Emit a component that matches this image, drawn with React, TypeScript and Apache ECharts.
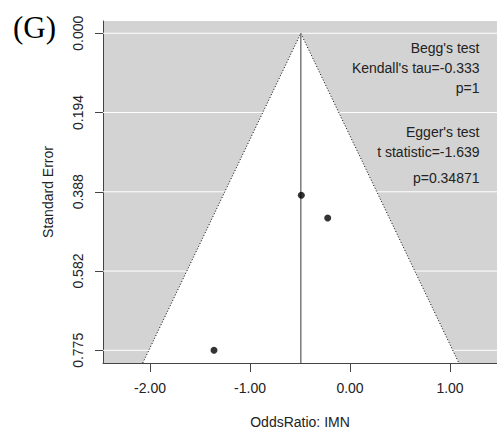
import React, { useEffect, useRef } from "react";
import * as echarts from "echarts";

// Study estimates (log odds ratio) and standard errors
const studyEffects = [-0.487, -0.223, -1.36];
const studySE = [0.396, 0.452, 0.7755];
const summaryEffect = -0.492;
const zCrit = 1.96;

const xTickValues = [-2, -1, 0, 1];
const yTickValues = [0, 0.19388, 0.38775, 0.58163, 0.7755];
const yTickLabels = ["0.000", "0.194", "0.388", "0.582", "0.775"];

const xMin = -2.47;
const xMax = 1.47;
const yMin = -0.03;
const yMax = 0.8065;

const annotations = [
  { text: "Begg's test", y: 47.5 },
  { text: "Kendall's tau=-0.333", y: 67.5 },
  { text: "p=1", y: 88 },
  { text: "Egger's test", y: 132 },
  { text: "t statistic=-1.639", y: 152 },
  { text: "p=0.34871", y: 178 },
];

const FONT = "'Liberation Sans', Arial, Helvetica, sans-serif";

export default function App() {
  const ref = useRef<HTMLDivElement>(null);
  useEffect(() => {
    if (!ref.current) return;
    const chart = echarts.init(ref.current, undefined, { renderer: "svg" });
    const points = studyEffects.map((x, i) => [x, studySE[i]]);
    chart.setOption({
      animation: false,
      backgroundColor: "#ffffff",
      grid: {
        left: 103,
        top: 21,
        right: 0,
        bottom: 68,
        show: true,
        backgroundColor: "#d3d3d3",
        borderWidth: 0,
        containLabel: false,
        outerBoundsMode: "none",
      },
      xAxis: {
        type: "value",
        min: xMin,
        max: xMax,
        name: "OddsRatio: IMN",
        nameLocation: "middle",
        nameGap: 52,
        nameTextStyle: { fontFamily: FONT, fontSize: 14, color: "#222" },
        axisLine: { show: true, onZero: false, lineStyle: { color: "#444", width: 1 } },
        axisTick: { show: true, length: 9, customValues: xTickValues, lineStyle: { color: "#444" } },
        axisLabel: {
          customValues: xTickValues,
          margin: 18,
          fontFamily: FONT,
          fontSize: 14,
          color: "#222",
          formatter: (v: number) => v.toFixed(2),
        },
        splitLine: { show: false },
      },
      yAxis: {
        type: "value",
        inverse: true,
        min: yMin,
        max: yMax,
        name: "Standard Error",
        nameLocation: "middle",
        nameGap: 48,
        nameRotate: 90,
        nameTextStyle: { fontFamily: FONT, fontSize: 14, color: "#222" },
        axisLine: { show: true, onZero: false, lineStyle: { color: "#444", width: 1 } },
        axisTick: { show: true, length: 8, customValues: yTickValues, lineStyle: { color: "#444" } },
        axisLabel: {
          customValues: yTickValues,
          rotate: 90,
          margin: 18,
          fontFamily: FONT,
          fontSize: 14,
          color: "#222",
          formatter: (v: number) => {
            let best = 0;
            yTickValues.forEach((t, i) => {
              if (Math.abs(t - v) < Math.abs(yTickValues[best] - v)) best = i;
            });
            return yTickLabels[best];
          },
        },
        splitLine: { show: false },
      },
      graphic: [
        {
          type: "text",
          x: 13,
          y: 27.5,
          style: {
            text: "(G)",
            font: "31px 'Liberation Serif', 'Times New Roman', serif",
            fill: "#000",
            textVerticalAlign: "middle",
          },
        },
        ...annotations.map((a) => ({
          type: "text",
          x: 479.5,
          y: a.y,
          style: {
            text: a.text,
            font: `14px ${FONT}`,
            fill: "#222",
            textAlign: "right",
            textVerticalAlign: "middle",
          },
          z: 100,
        })),
      ],
      series: [
        {
          type: "custom",
          coordinateSystem: "cartesian2d",
          data: [[summaryEffect, 0]],
          clip: true,
          silent: true,
          z: 1,
          renderItem: (params: any, api: any) => {
            const children: any[] = [];
            yTickValues.forEach((t) => {
              const a = api.coord([xMin, t]);
              const b = api.coord([xMax, t]);
              children.push({
                type: "line",
                shape: { x1: a[0], y1: a[1], x2: b[0], y2: b[1] },
                style: { stroke: "#ffffff", lineWidth: 1 },
              });
            });
            const apex = api.coord([summaryEffect, 0]);
            const bl = api.coord([summaryEffect - zCrit * yMax, yMax]);
            const br = api.coord([summaryEffect + zCrit * yMax, yMax]);
            children.push({
              type: "polygon",
              shape: { points: [apex, bl, br] },
              style: { fill: "#ffffff", stroke: "none" },
            });
            children.push({
              type: "polyline",
              shape: { points: [bl, apex, br] },
              style: { stroke: "#000", lineWidth: 1, lineDash: [1, 2], fill: "none" },
            });
            const vb = api.coord([summaryEffect, yMax]);
            children.push({
              type: "line",
              shape: { x1: apex[0], y1: apex[1], x2: vb[0], y2: vb[1] },
              style: { stroke: "#7a7a7a", lineWidth: 1.5 },
            });
            return { type: "group", children };
          },
        },
        {
          type: "scatter",
          data: points,
          symbol: "circle",
          symbolSize: 7,
          itemStyle: { color: "#000" },
          z: 5,
        },
      ],
    });
    return () => chart.dispose();
  }, []);
  return (
    <div
      ref={ref}
      style={{ position: "fixed", left: 0, top: 0, width: 497, height: 431 }}
    />
  );
}
